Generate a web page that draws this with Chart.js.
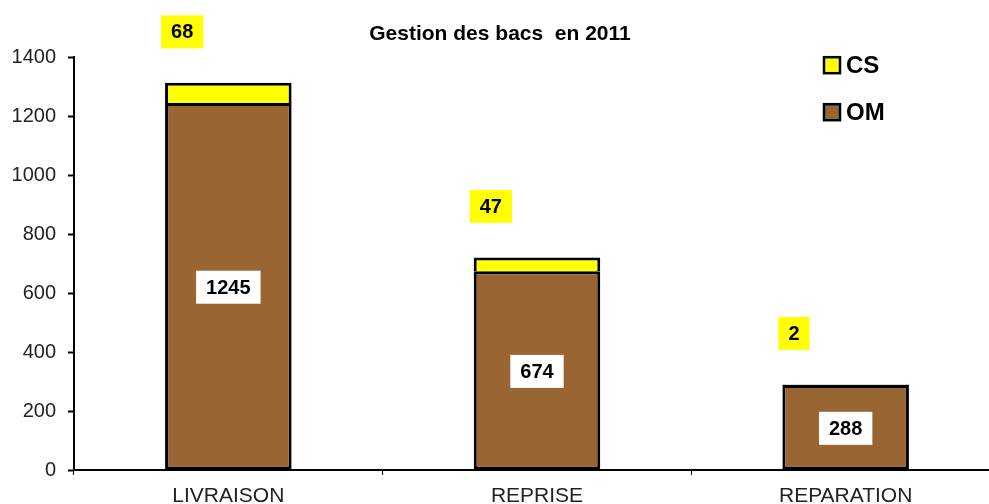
<!DOCTYPE html>
<html>
<head>
<meta charset="utf-8">
<script src="https://cdn.jsdelivr.net/npm/chart.js@4.4.0/dist/chart.umd.min.js"></script>
<style>
  html, body { margin: 0; padding: 0; background: #fff; overflow: hidden; }
</style>
</head>
<body>
<canvas id="chart" width="1000" height="520"></canvas>
<script>
const categories = ['LIVRAISON', 'REPRISE', 'REPARATION'];
const omValues = [1245, 674, 288];
const csValues = [68, 47, 2];
const yMax = 1400;
const yStep = 200;

const BROWN = '#996633';
const YELLOW = '#ffff00';
const FONT = '"Liberation Sans", Arial, sans-serif';

// boxes with the values, white in the OM part, yellow above the stack for CS
const valueBoxes = {
    id: 'valueBoxes',
    afterDatasetsDraw(chart) {
        const ctx = chart.ctx;
        ctx.save();
        ctx.font = 'bold 20px ' + FONT;
        ctx.textAlign = 'center';
        ctx.textBaseline = 'middle';
        chart.data.datasets.forEach((ds, di) => {
            const meta = chart.getDatasetMeta(di);
            meta.data.forEach((bar, i) => {
                const txt = String(ds.data[i]);
                const w = ctx.measureText(txt).width + 20;
                const h = 33;
                let cx, cy;
                if (ds.label === 'OM') {
                    cx = bar.x;
                    cy = (bar.y + bar.base) / 2 + 1;
                    ctx.fillStyle = '#fff';
                } else {
                    cx = bar.x - bar.width / 2 - 4 + w / 2;
                    cy = bar.y - 51;
                    ctx.fillStyle = YELLOW;
                }
                ctx.fillRect(cx - w / 2, cy - h / 2, w, h);
                ctx.fillStyle = '#000';
                ctx.fillText(txt, cx, cy + 1);
            });
        });
        ctx.restore();
    }
};

// vertical legend in the top right corner, CS above OM
const sideLegend = {
    id: 'sideLegend',
    afterDraw(chart) {
        const ctx = chart.ctx;
        const area = chart.chartArea;
        const x = area.right - 176;
        const items = [['CS', YELLOW], ['OM', BROWN]];
        ctx.save();
        ctx.font = 'bold 24px ' + FONT;
        ctx.textBaseline = 'middle';
        items.forEach((it, k) => {
            const y = area.top + 8 + k * 47;
            ctx.fillStyle = it[1];
            ctx.fillRect(x, y - 8, 16, 16);
            ctx.strokeStyle = '#000';
            ctx.lineWidth = 2.5;
            ctx.strokeRect(x, y - 8, 16, 16);
            ctx.fillStyle = '#000';
            ctx.fillText(it[0], x + 22, y + 1);
        });
        ctx.restore();
    }
};

const ctx = document.getElementById('chart').getContext('2d');
const chart = new Chart(ctx, {
    type: 'bar',
    data: {
        labels: categories,
        datasets: [{
            label: 'OM',
            data: omValues,
            backgroundColor: BROWN,
            borderColor: '#000',
            borderWidth: 3,
            borderSkipped: false
        }, {
            label: 'CS',
            data: csValues,
            backgroundColor: YELLOW,
            borderColor: '#000',
            borderWidth: 3,
            borderSkipped: 'start'
        }]
    },
    options: {
        responsive: false,
        animation: false,
        categoryPercentage: 1,
        barPercentage: 0.41,
        layout: { padding: { left: 0, right: 0, top: 0, bottom: 0 } },
        plugins: {
            legend: { display: false },
            tooltip: { enabled: false },
            title: {
                display: true,
                text: 'Gestion des bacs  en 2011',
                color: '#000',
                font: { family: FONT, size: 21, weight: 'bold' },
                padding: { top: 22, bottom: 10 }
            }
        },
        scales: {
            x: {
                stacked: true,
                afterFit: s => { s.height = 50; },
                border: { color: '#000', width: 2 },
                grid: {
                    display: true,
                    drawOnChartArea: false,
                    offset: true,
                    tickLength: 5,
                    tickColor: '#000',
                    tickWidth: 1
                },
                ticks: {
                    color: '#222',
                    padding: 9,
                    font: { family: FONT, size: 21 }
                }
            },
            y: {
                stacked: true,
                min: 0,
                max: yMax,
                afterFit: s => { s.width = 74; },
                border: { color: '#000', width: 2 },
                grid: {
                    display: true,
                    drawOnChartArea: false,
                    tickLength: 6,
                    tickColor: '#000',
                    tickWidth: 2
                },
                ticks: {
                    stepSize: yStep,
                    color: '#222',
                    padding: 12,
                    font: { family: FONT, size: 20 },
                    callback: v => String(v)
                }
            }
        }
    },
    plugins: [valueBoxes, sideLegend]
});
</script>
</body>
</html>
